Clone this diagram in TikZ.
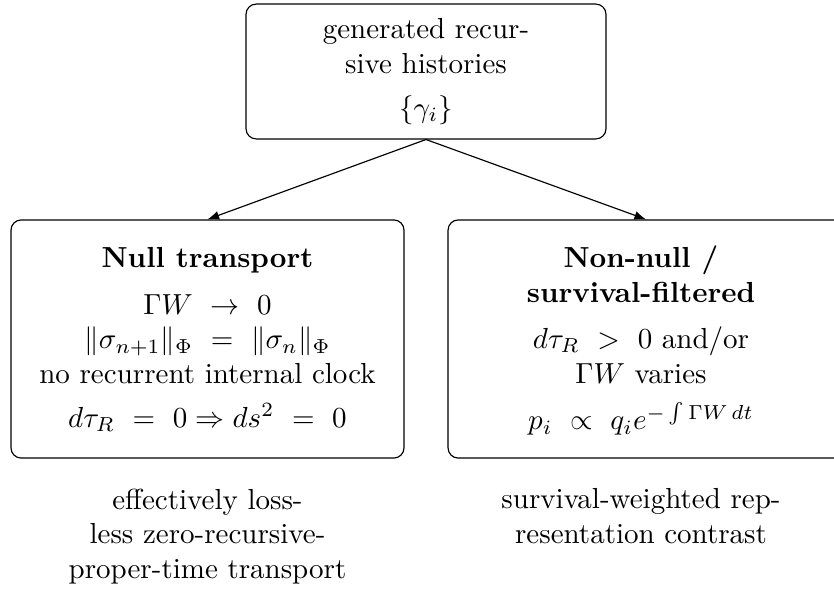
\documentclass[tikz,border=0pt]{standalone}
\usepackage{amsmath}
\tikzstyle{box}=[draw=black, rounded corners=3.5pt, inner sep=0pt]
\tikzstyle{txt}=[align=center, inner sep=0pt]
\tikzstyle{arrow}=[-latex]

\begin{document}
\begin{tikzpicture}[x=0.3448pt, y=-0.3448pt]
    \useasboundingbox (0,0) rectangle (834,606);
    \clip (0,0) rectangle (834,606);
    % top
    \node[box, txt, minimum width=124.1pt, minimum height=46.5pt] (hist) at (426,71.5)
        {generated recur-\\sive histories\\[3pt]$\{\gamma_i\}$};
    % the two branches
    \node[box, minimum width=135.5pt, minimum height=82.1pt] (null) at (207.5,339) {};
    \node[box, minimum width=136.5pt, minimum height=82.1pt] (nonnull) at (646,339) {};
    \node[txt, anchor=north] (nulltxt) at (207.5,247)
        {\textbf{Null transport}\\[4pt]
         $\Gamma W\ \to\ 0$\\
         $\|\sigma_{n+1}\|_\Phi\ =\ \|\sigma_n\|_\Phi$\\
         no recurrent internal clock\\[3pt]
         $d\tau_R\ =\ 0 \Rightarrow ds^2\ =\ 0$};
    \node[txt, anchor=north] (nonnulltxt) at (641,245)
        {\textbf{Non-null /}\\\textbf{survival-filtered}\\[4pt]
         $d\tau_R\ >\ 0$ and/or\\
         $\Gamma W$\ varies\\[4pt]
         $p_i\ \propto\ q_i e^{-\int \Gamma W\,dt}$};
    \draw[arrow] (hist.south) -- (null.north);
    \draw[arrow] (hist.south) -- (nonnull.north);
    % captions below
    \node[txt, anchor=north] (nulllbl) at (207.5,488)
        {effectively loss-\\less zero-recursive-\\proper-time transport};
    \node[txt, anchor=north] (nonnulllbl) at (641,488)
        {survival-weighted rep-\\resentation contrast};
\end{tikzpicture}
\end{document}
